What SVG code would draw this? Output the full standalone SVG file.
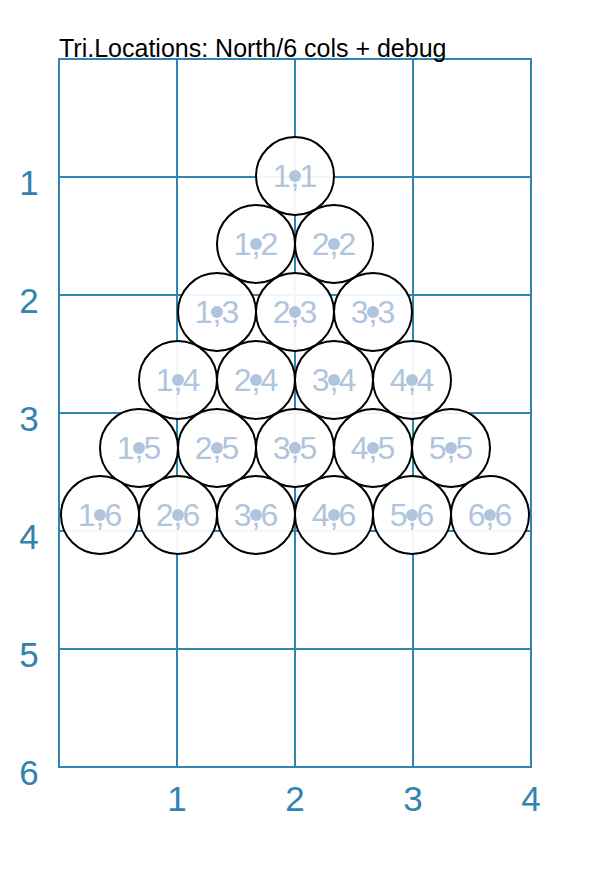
<svg xmlns="http://www.w3.org/2000/svg" width="613" height="875" viewBox="0 0 613 875">
<style>
.grid{stroke:#3184ad;stroke-width:2;fill:none}
.ax{font-family:"Liberation Sans",Arial,sans-serif;font-size:35px;fill:#3184ad;text-anchor:middle}
.title{font-family:"Liberation Sans",Arial,sans-serif;font-size:25px;fill:#000}
.node circle.c{fill:#fff;fill-opacity:0.93;stroke:#000;stroke-width:2}
.node circle.d{fill:#b0c4de}
.node text{font-family:"Liberation Sans",Arial,sans-serif;font-size:32px;fill:#b0c4de;text-anchor:middle}
</style>
<rect width="613" height="875" fill="#fff"/>
<g id="grid" class="grid">
<rect x="59" y="59" width="472" height="708"/>
<path d="M177 59V767M295 59V767M413 59V767M59 177H531M59 295H531M59 413H531M59 531H531M59 649H531"/>
</g>
<g id="axes">
<text class="ax" x="29" y="195">1</text>
<text class="ax" x="29" y="313">2</text>
<text class="ax" x="29" y="431">3</text>
<text class="ax" x="29" y="549">4</text>
<text class="ax" x="29" y="667">5</text>
<text class="ax" x="29" y="785">6</text>
<text class="ax" x="177" y="811">1</text>
<text class="ax" x="295" y="811">2</text>
<text class="ax" x="413" y="811">3</text>
<text class="ax" x="531" y="811">4</text>
</g>
<text class="title" x="59" y="57">Tri.Locations: North/6 cols + debug</text>
<g id="n1_1" class="node"><circle class="c" cx="295" cy="176" r="39"/><text x="295" y="187">1,1</text><circle class="d" cx="295" cy="176" r="6"/></g>
<g id="n1_2" class="node"><circle class="c" cx="256" cy="244" r="39"/><text x="256" y="255">1,2</text><circle class="d" cx="256" cy="244" r="6"/></g>
<g id="n2_2" class="node"><circle class="c" cx="334" cy="244" r="39"/><text x="334" y="255">2,2</text><circle class="d" cx="334" cy="244" r="6"/></g>
<g id="n1_3" class="node"><circle class="c" cx="217" cy="312" r="39"/><text x="217" y="323">1,3</text><circle class="d" cx="217" cy="312" r="6"/></g>
<g id="n2_3" class="node"><circle class="c" cx="295" cy="312" r="39"/><text x="295" y="323">2,3</text><circle class="d" cx="295" cy="312" r="6"/></g>
<g id="n3_3" class="node"><circle class="c" cx="373" cy="312" r="39"/><text x="373" y="323">3,3</text><circle class="d" cx="373" cy="312" r="6"/></g>
<g id="n1_4" class="node"><circle class="c" cx="178" cy="380" r="39"/><text x="178" y="391">1,4</text><circle class="d" cx="178" cy="380" r="6"/></g>
<g id="n2_4" class="node"><circle class="c" cx="256" cy="380" r="39"/><text x="256" y="391">2,4</text><circle class="d" cx="256" cy="380" r="6"/></g>
<g id="n3_4" class="node"><circle class="c" cx="334" cy="380" r="39"/><text x="334" y="391">3,4</text><circle class="d" cx="334" cy="380" r="6"/></g>
<g id="n4_4" class="node"><circle class="c" cx="412" cy="380" r="39"/><text x="412" y="391">4,4</text><circle class="d" cx="412" cy="380" r="6"/></g>
<g id="n1_5" class="node"><circle class="c" cx="139" cy="448" r="39"/><text x="139" y="459">1,5</text><circle class="d" cx="139" cy="448" r="6"/></g>
<g id="n2_5" class="node"><circle class="c" cx="217" cy="448" r="39"/><text x="217" y="459">2,5</text><circle class="d" cx="217" cy="448" r="6"/></g>
<g id="n3_5" class="node"><circle class="c" cx="295" cy="448" r="39"/><text x="295" y="459">3,5</text><circle class="d" cx="295" cy="448" r="6"/></g>
<g id="n4_5" class="node"><circle class="c" cx="373" cy="448" r="39"/><text x="373" y="459">4,5</text><circle class="d" cx="373" cy="448" r="6"/></g>
<g id="n5_5" class="node"><circle class="c" cx="451" cy="448" r="39"/><text x="451" y="459">5,5</text><circle class="d" cx="451" cy="448" r="6"/></g>
<g id="n1_6" class="node"><circle class="c" cx="100" cy="515" r="39"/><text x="100" y="526">1,6</text><circle class="d" cx="100" cy="515" r="6"/></g>
<g id="n2_6" class="node"><circle class="c" cx="178" cy="515" r="39"/><text x="178" y="526">2,6</text><circle class="d" cx="178" cy="515" r="6"/></g>
<g id="n3_6" class="node"><circle class="c" cx="256" cy="515" r="39"/><text x="256" y="526">3,6</text><circle class="d" cx="256" cy="515" r="6"/></g>
<g id="n4_6" class="node"><circle class="c" cx="334" cy="515" r="39"/><text x="334" y="526">4,6</text><circle class="d" cx="334" cy="515" r="6"/></g>
<g id="n5_6" class="node"><circle class="c" cx="412" cy="515" r="39"/><text x="412" y="526">5,6</text><circle class="d" cx="412" cy="515" r="6"/></g>
<g id="n6_6" class="node"><circle class="c" cx="490" cy="515" r="39"/><text x="490" y="526">6,6</text><circle class="d" cx="490" cy="515" r="6"/></g>
<g id="connectors"/>
</svg>
